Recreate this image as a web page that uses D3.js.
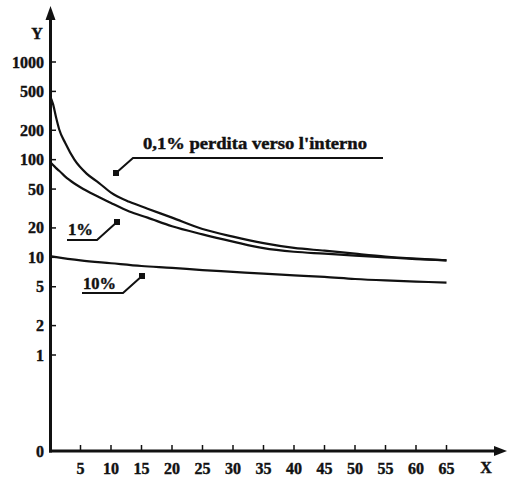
<!DOCTYPE html>
<html>
<head>
<meta charset="utf-8">
<script src="https://cdn.jsdelivr.net/npm/d3@7"></script>
<style>
  body { margin: 0; background: #fff; }
  text { font-family: "Liberation Serif", "Times New Roman", serif; font-weight: bold; fill: #111; stroke: #111; stroke-width: 0.4px; }
</style>
</head>
<body>
<div id="chart"></div>
<script>
// Global Variables

//Width and height
var w = 507;
var h = 477;

// Data
var xValues    = [0, 0.5, 1, 1.5, 2.5, 4, 6, 8, 10, 13, 16, 20, 25, 30, 35, 40, 45, 50, 55, 60, 65];
var loss01     = [450, 370, 270, 205, 148, 100, 72, 58, 46, 37, 31.5, 25.5, 19.5, 16.3, 14, 12.5, 11.7, 10.9, 10.2, 9.7, 9.3];
var loss1      = [95, 88, 82, 77, 67, 57, 48, 41.5, 36, 29.5, 25.5, 20.8, 17.2, 14.5, 12.4, 11.4, 10.9, 10.4, 10.0, 9.6, 9.3];
var x10        = [0, 5, 10, 15, 20, 25, 30, 35, 40, 45, 50, 55, 60, 65];
var loss10     = [10.3, 9.3, 8.7, 8.15, 7.8, 7.4, 7.1, 6.8, 6.55, 6.3, 6.0, 5.8, 5.65, 5.5];

var xTicks = [5, 10, 15, 20, 25, 30, 35, 40, 45, 50, 55, 60, 65];
var yTicks = [0, 1, 2, 5, 10, 20, 50, 100, 200, 500, 1000];

// Scales: x linear, y log with 0 put on the x axis
var x = d3.scaleLinear().domain([0, 65]).range([50, 446.5]);
var yLog = d3.scaleLog().domain([1, 1000]).range([355, 62]);
var axisY = 451;
function y(v) { return v === 0 ? axisY : yLog(v); }

//Create SVG element
var svg = d3.select("#chart")
			.append("svg")
			.attr("width", w)
			.attr("height", h);

// Axes lines + arrows
svg.append("line")
	.attr("x1", 50.5).attr("y1", axisY + 1.5)
	.attr("x2", 50.5).attr("y2", 16)
	.style("stroke", "#111").style("stroke-width", 3);
svg.append("path")
	.attr("d", "M50.5,6 L45.5,20 L55.5,20 Z")
	.style("fill", "#111");

svg.append("line")
	.attr("x1", 49).attr("y1", axisY)
	.attr("x2", 498).attr("y2", axisY)
	.style("stroke", "#111").style("stroke-width", 3);
svg.append("path")
	.attr("d", "M507," + axisY + " L494," + (axisY - 5) + " L494," + (axisY + 5) + " Z")
	.style("fill", "#111");

// x ticks (above the axis)
svg.selectAll(".xtick")
	.data(xTicks)
	.enter()
	.append("line")
	.attr("class", "xtick")
	.attr("x1", function(d) { return x(d); })
	.attr("x2", function(d) { return x(d); })
	.attr("y1", axisY - 6)
	.attr("y2", axisY)
	.style("stroke", "#111").style("stroke-width", 1.5);

svg.selectAll(".xlabel")
	.data(xTicks)
	.enter()
	.append("text")
	.attr("class", "xlabel")
	.attr("x", function(d) { return x(d); })
	.attr("y", 474)
	.attr("text-anchor", "middle")
	.style("font-size", "16px")
	.text(function(d) { return d; });

// y ticks (right of the axis)
svg.selectAll(".ytick")
	.data(yTicks.filter(function(d) { return d > 0; }))
	.enter()
	.append("line")
	.attr("class", "ytick")
	.attr("x1", 50)
	.attr("x2", 56)
	.attr("y1", function(d) { return y(d); })
	.attr("y2", function(d) { return y(d); })
	.style("stroke", "#111").style("stroke-width", 1.5);

svg.selectAll(".ylabel")
	.data(yTicks)
	.enter()
	.append("text")
	.attr("class", "ylabel")
	.attr("x", 44)
	.attr("y", function(d) { return y(d) + 5.5; })
	.attr("text-anchor", "end")
	.style("font-size", "16px")
	.text(function(d) { return d; });

// axis names
svg.append("text").attr("x", 37).attr("y", 39).attr("text-anchor", "middle")
	.style("font-size", "16px").text("Y");
svg.append("text").attr("x", 486).attr("y", 473).attr("text-anchor", "middle")
	.style("font-size", "16px").text("X");

// Curves
var line = d3.line()
	.x(function(d) { return x(d[0]); })
	.y(function(d) { return y(d[1]); })
	.curve(d3.curveMonotoneX);

var series = [d3.zip(xValues, loss01), d3.zip(xValues, loss1), d3.zip(x10, loss10)];

svg.selectAll(".curve")
	.data(series)
	.enter()
	.append("path")
	.attr("class", "curve")
	.attr("d", line)
	.style("fill", "none")
	.style("stroke", "#111")
	.style("stroke-width", 2.2);

// Callouts: text, leader line and a small square marker
var callouts = [
	{ label: "0,1% perdita verso l'interno", tx: 143, ty: 149, size: 16, len: 224, lx1: 383, lx2: 133, ly: 158, mx: 116, my: 173 },
	{ label: "1%", tx: 68, ty: 235, size: 16, len: 25, lx1: 67, lx2: 97, ly: 240, mx: 117, my: 222 },
	{ label: "10%", tx: 83, ty: 289, size: 16, len: 33, lx1: 82, lx2: 123, ly: 293, mx: 142, my: 276 }
];

callouts.forEach(function(c) {
	svg.append("text")
		.attr("x", c.tx).attr("y", c.ty)
		.attr("textLength", c.len)
		.attr("lengthAdjust", "spacingAndGlyphs")
		.style("font-size", c.size + "px")
		.text(c.label);
	svg.append("polyline")
		.attr("points", c.lx1 + "," + c.ly + " " + c.lx2 + "," + c.ly + " " + c.mx + "," + c.my)
		.style("fill", "none")
		.style("stroke", "#111")
		.style("stroke-width", 2);
	svg.append("rect")
		.attr("x", c.mx - 3).attr("y", c.my - 3)
		.attr("width", 6).attr("height", 6)
		.style("fill", "#111");
});
</script>
</body>
</html>
